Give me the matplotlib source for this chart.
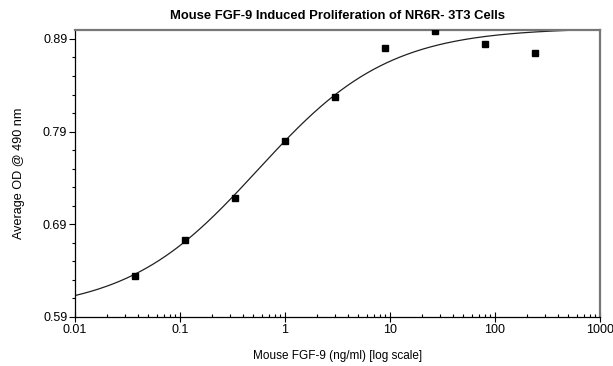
import numpy as np
import matplotlib
matplotlib.use("Agg")
import matplotlib.pyplot as plt
from matplotlib.ticker import FixedLocator, FixedFormatter, LogLocator, NullFormatter

plt.rcParams['font.family'] = ['Liberation Sans', 'DejaVu Sans']

# Data
conc = [0.037, 0.111, 0.333, 1.0, 3.0, 9.0, 27.0, 81.0, 243.0]
od = [0.634, 0.673, 0.718, 0.780, 0.827, 0.880, 0.899, 0.885, 0.875]

# 4-parameter logistic fit parameters (estimated from the drawn curve)
fit_bottom = 0.595
fit_top = 0.902
fit_ec50 = 0.55
fit_hill = 0.695

y_ticks = [0.59, 0.69, 0.79, 0.89]
y_tick_labels = ["0.59", "0.69", "0.79", "0.89"]
x_ticks = [0.01, 0.1, 1, 10, 100, 1000]
x_tick_labels = ["0.01", "0.1", "1", "10", "100", "1000"]

fig = plt.figure(figsize=(6.13, 3.66), dpi=100)
ax = fig.add_axes([75/613, 1-316.7/366, 525/613, (316.7-30)/366])

xs = np.logspace(-2, 3, 400)
ys = fit_bottom + (fit_top - fit_bottom) / (1 + (fit_ec50 / xs) ** fit_hill)
ax.plot(xs, ys, color='#202020', lw=0.9, zorder=2)
ax.plot(conc, od, linestyle='none', marker='s', markersize=4.6, color='black', zorder=3)

ax.set_xscale('log')
ax.set_xlim(0.01, 1000)
ax.set_ylim(0.59, 0.8997)

ax.xaxis.set_major_locator(FixedLocator(x_ticks))
ax.xaxis.set_major_formatter(FixedFormatter(x_tick_labels))
ax.xaxis.set_minor_locator(LogLocator(base=10, subs=np.arange(2, 10)))
ax.xaxis.set_minor_formatter(NullFormatter())

ax.yaxis.set_major_locator(FixedLocator(y_ticks))
ax.yaxis.set_major_formatter(FixedFormatter(y_tick_labels))
ax.yaxis.set_minor_locator(FixedLocator(list(np.arange(0.61, 0.89, 0.02))))

ax.tick_params(axis='x', which='major', direction='inout', length=7, width=0.8, labelsize=9, pad=2)
ax.tick_params(axis='x', which='minor', direction='in', length=2.5, width=0.8)
ax.tick_params(axis='y', which='major', direction='out', length=4, width=0.8, labelsize=9, pad=1.5)
ax.tick_params(axis='y', which='minor', direction='out', length=2, width=0.8)

for s in ['left', 'bottom']:
    ax.spines[s].set_color('black')
    ax.spines[s].set_linewidth(0.9)
for s in ['top', 'right']:
    ax.spines[s].set_color('#777777')
    ax.spines[s].set_linewidth(1.6)

ax.set_title("Mouse FGF-9 Induced Proliferation of NR6R- 3T3 Cells", fontsize=9.4,
             fontweight='bold', pad=8)
ax.set_xlabel("Mouse FGF-9 (ng/ml) [log scale]", fontsize=8.5, labelpad=10)
ax.set_ylabel("Average OD @ 490 nm", fontsize=9.1, labelpad=13)

fig.savefig("out.png", dpi=100)
